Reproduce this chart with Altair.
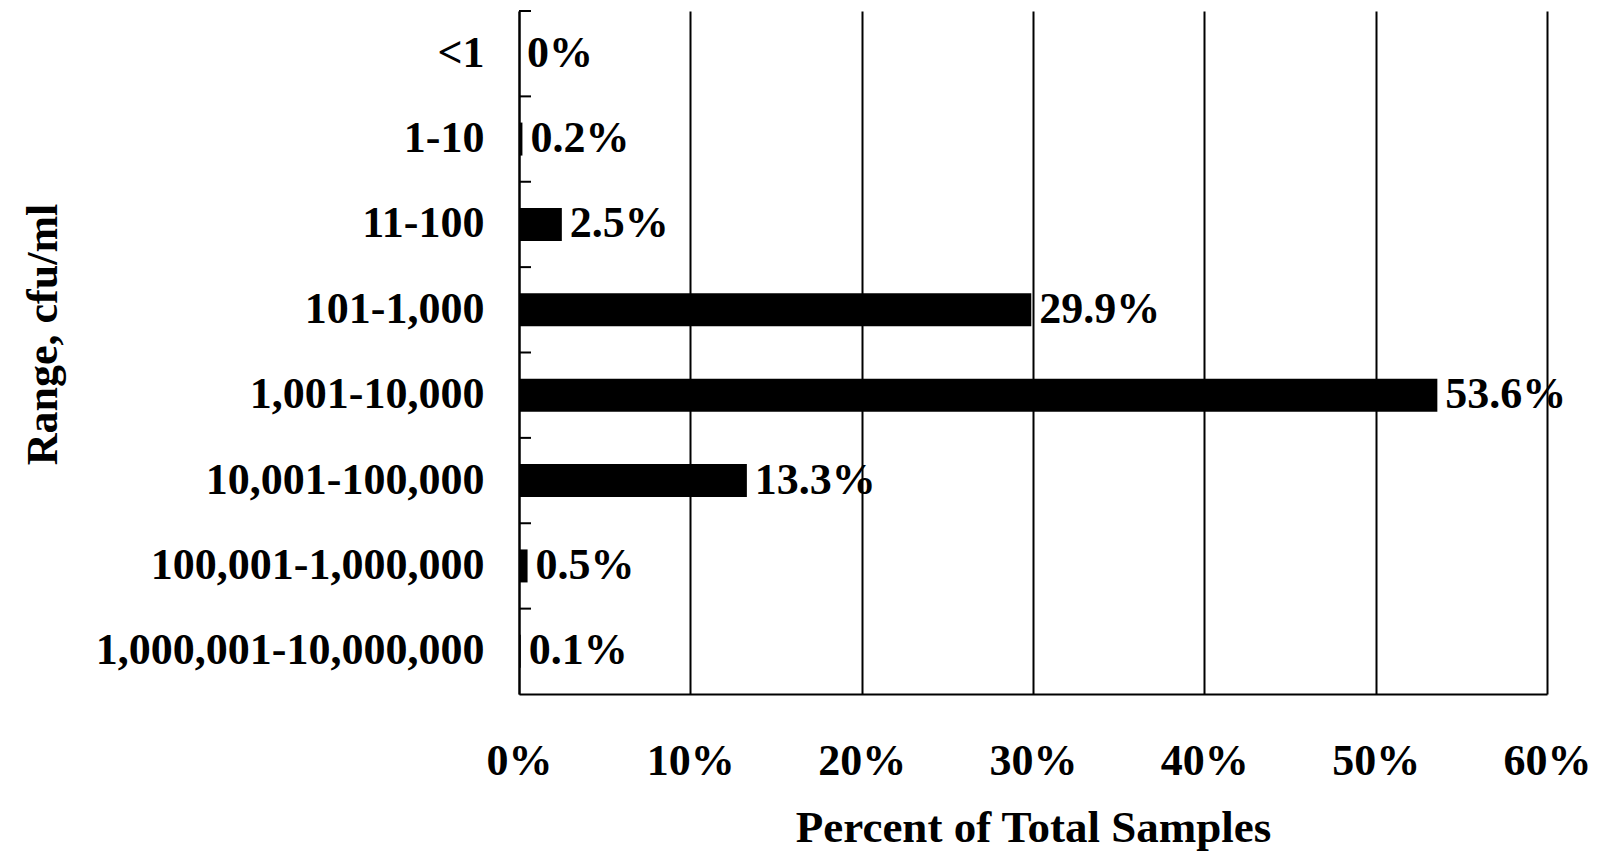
import altair as alt
import pandas as pd

categories = ["<1", "1-10", "11-100", "101-1,000", "1,001-10,000",
              "10,001-100,000", "100,001-1,000,000", "1,000,001-10,000,000"]
percents = [0.0, 0.2, 2.5, 29.9, 53.6, 13.3, 0.5, 0.1]
labels = ["0%", "0.2%", "2.5%", "29.9%", "53.6%", "13.3%", "0.5%", "0.1%"]
x_ticks = [0, 10, 20, 30, 40, 50, 60]

df = pd.DataFrame({"range": categories, "pct": percents, "label": labels})

FONT = "Liberation Serif"

y_enc = alt.Y("range:N", sort=categories,
              scale=alt.Scale(paddingInner=0, paddingOuter=0),
              axis=alt.Axis(title="Range, cfu/ml", labelFont=FONT, labelFontWeight="bold",
                            labelFontSize=44, labelColor="black", labelPadding=35,
                            titleFont=FONT, titleFontWeight="bold", titleFontSize=44,
                            titleColor="black", titleAngle=-90, titleBaseline="middle",
                            titleAlign="center", titleX=-476, titleY=323,
                            ticks=False, tickSize=0, domainColor="black", domainWidth=2,
                            grid=False, labelLimit=1000))

x_enc = alt.X("pct:Q", scale=alt.Scale(domain=[0, 60], nice=False),
              axis=alt.Axis(title="Percent of Total Samples", values=x_ticks,
                            labelExpr="datum.value + '%'",
                            labelFont=FONT, labelFontWeight="bold", labelFontSize=44,
                            labelColor="black", labelPadding=45,
                            titleFont=FONT, titleFontWeight="bold", titleFontSize=45,
                            titleColor="black", titlePadding=22,
                            ticks=False, tickSize=0, domainColor="black", domainWidth=2,
                            grid=True, gridColor="black", gridWidth=2, gridOpacity=1,
                            labelFlush=False))

bars = alt.Chart(df).mark_bar(color="black", size=33).encode(x=x_enc, y=y_enc)

text = alt.Chart(df).mark_text(align="left", baseline="middle", dx=8, font=FONT,
                               fontWeight="bold", fontSize=44, color="black").encode(
    x=alt.X("pct:Q"), y=alt.Y("range:N", sort=categories), text="label:N")

ticks = alt.Chart(df).mark_rule(color="black", strokeWidth=2).encode(
    y=alt.Y("range:N", sort=categories, bandPosition=0),
    x=alt.value(0), x2=alt.value(12))

chart = alt.layer(bars, text, ticks).properties(
    width=1028, height=683, background="white",
    padding={"left": 12, "top": 2, "right": 5, "bottom": 5}
).configure_view(stroke=None, strokeWidth=0)

chart.save("out.html", embed_options={"renderer": "svg", "actions": False})
